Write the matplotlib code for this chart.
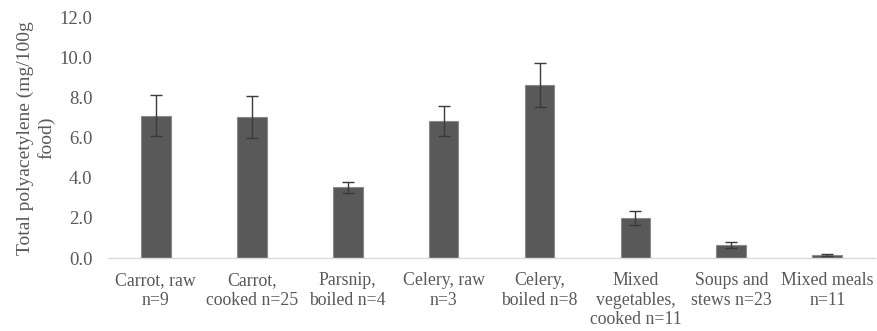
import matplotlib
matplotlib.use("Agg")
import matplotlib.pyplot as plt
import numpy as np

categories = ["Carrot, raw\nn=9", "Carrot,\ncooked n=25", "Parsnip,\nboiled n=4",
              "Celery, raw\nn=3", "Celery,\nboiled n=8", "Mixed\nvegetables,\ncooked n=11",
              "Soups and\nstews n=23", "Mixed meals\nn=11"]
values = [7.10, 7.03, 3.53, 6.83, 8.63, 1.99, 0.65, 0.16]
errors = [1.02, 1.04, 0.28, 0.74, 1.10, 0.35, 0.17, 0.05]
yticks = [0.0, 2.0, 4.0, 6.0, 8.0, 10.0, 12.0]

plt.rcParams['font.family'] = ['Liberation Serif', 'DejaVu Serif']
text_color = '#595959'

fig = plt.figure(figsize=(8.77, 3.31), dpi=100)
ax = fig.add_axes([0.123, 0.2205, 0.875, 0.7265])

x = np.arange(len(categories))
ax.bar(x, values, width=0.31, color='#595959', edgecolor='#8a8a8a', linewidth=0.8, zorder=2)
ax.errorbar(x, values, yerr=errors, fmt='none', ecolor='#3a3a3a', elinewidth=1.0,
            capsize=4, capthick=1.0, zorder=3)

ax.set_xlim(-0.5, len(categories) - 0.5)
ax.set_ylim(0, 12)
ax.set_yticks(yticks)
ax.set_yticklabels([f"{v:.1f}" for v in yticks], fontsize=13.5, color=text_color)
ax.set_xticks(x)
ax.set_xticklabels(categories, fontsize=12.8, color=text_color, linespacing=1.2)
ax.tick_params(axis='both', length=0)
ax.tick_params(axis='x', pad=10)
ax.tick_params(axis='y', pad=11)

for s in ['top', 'right', 'left']:
    ax.spines[s].set_visible(False)
ax.spines['bottom'].set_color('#d9d9d9')
ax.spines['bottom'].set_linewidth(1.0)

ax.set_ylabel("Total polyacetylene (mg/100g\nfood)", fontsize=14, color=text_color,
              linespacing=1.25, labelpad=3)

fig.savefig("out.png", dpi=100)
